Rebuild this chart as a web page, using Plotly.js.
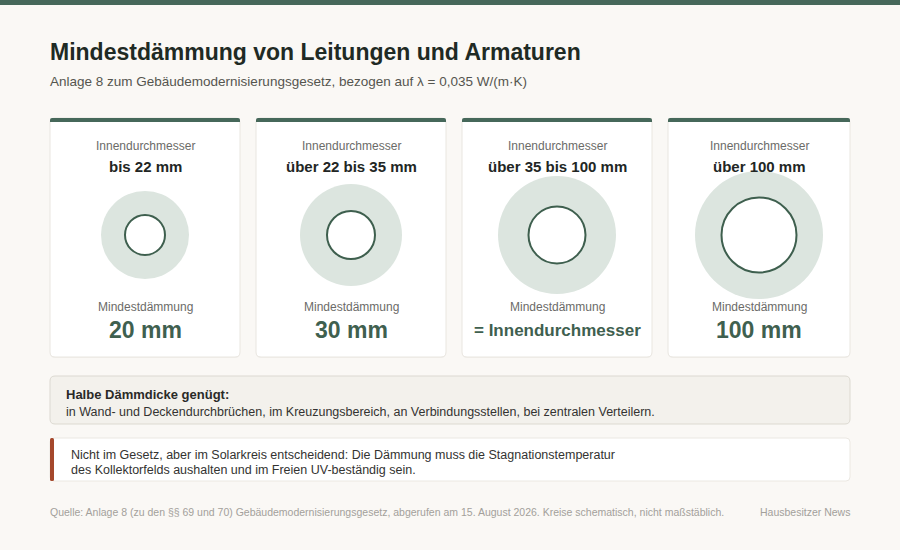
<!DOCTYPE html>
<html>
<head>
<meta charset="utf-8">
<script src="https://cdn.plot.ly/plotly-3.0.1.min.js"></script>
<style>
  html, body { margin: 0; padding: 0; background: #faf8f5; }
  #chart { width: 900px; height: 550px; }
</style>
</head>
<body>
<div id="chart"></div>
<script>
// data
var rangeLabels = ['bis 22 mm', 'über 22 bis 35 mm', 'über 35 bis 100 mm', 'über 100 mm'];
var insulationLabels = ['20 mm', '30 mm', '= Innendurchmesser', '100 mm'];
// schematic circle diameters (not to scale)
var pipeDiameter = [40, 48, 57, 75];
var insulatedDiameter = [88, 102, 118, 128];

var titleText = 'Mindestdämmung von Leitungen und Armaturen';
var subtitleText = 'Anlage 8 zum Gebäudemodernisierungsgesetz, bezogen auf λ = 0,035 W/(m·K)';
var halfHead = 'Halbe Dämmdicke genügt:';
var halfText = 'in Wand- und Deckendurchbrüchen, im Kreuzungsbereich, an Verbindungsstellen, bei zentralen Verteilern.';
var solarLines = ['Nicht im Gesetz, aber im Solarkreis entscheidend: Die Dämmung muss die Stagnationstemperatur',
                  'des Kollektorfelds aushalten und im Freien UV-beständig sein.'];
var sourceText = 'Quelle: Anlage 8 (zu den §§ 69 und 70) Gebäudemodernisierungsgesetz, abgerufen am 15. August 2026. Kreise schematisch, nicht maßstäblich.';
var brandText = 'Hausbesitzer News';

var GREEN = '#46685a';
var FONT = 'Liberation Sans, Arial, sans-serif';

// card edges (page layout)
var cardLeft = [50, 256, 462, 668];
var cardRight = [240, 446, 652, 850];
var cardTop = 118, cardBottom = 357;

function rr(x0, y0, x1, y1, r) {
    return 'M' + (x0 + r) + ',' + y0 + ' H' + (x1 - r) + ' Q' + x1 + ',' + y0 + ' ' + x1 + ',' + (y0 + r) +
        ' V' + (y1 - r) + ' Q' + x1 + ',' + y1 + ' ' + (x1 - r) + ',' + y1 +
        ' H' + (x0 + r) + ' Q' + x0 + ',' + y1 + ' ' + x0 + ',' + (y1 - r) +
        ' V' + (y0 + r) + ' Q' + x0 + ',' + y0 + ' ' + (x0 + r) + ',' + y0 + ' Z';
}
function topBar(x0, y0, x1, y1, r) {
    return 'M' + x0 + ',' + y1 + ' V' + (y0 + r) + ' Q' + x0 + ',' + y0 + ' ' + (x0 + r) + ',' + y0 +
        ' H' + (x1 - r) + ' Q' + x1 + ',' + y0 + ' ' + x1 + ',' + (y0 + r) + ' V' + y1 + ' Z';
}

var shapes = [];
var annotations = [];

// page top stripe
shapes.push({type: 'rect', x0: 0, x1: 900, y0: 0, y1: 5, fillcolor: GREEN, line: {width: 0}, layer: 'below'});

function txt(x, y, text, size, color, bold, anchor) {
    annotations.push({
        x: x, y: y, xref: 'x', yref: 'y', text: bold ? '<b>' + text + '</b>' : text,
        showarrow: false, xanchor: anchor || 'center', yanchor: 'middle',
        borderpad: 0, borderwidth: 0,
        font: {family: FONT, size: size, color: color}
    });
}

txt(50, 52, titleText, 23, '#1f2a24', true, 'left');
txt(50, 81, subtitleText, 13.5, '#55554f', false, 'left');

var centers = [];
for (var i = 0; i < rangeLabels.length; i++) {
    var cx = (cardLeft[i] + cardRight[i]) / 2;
    centers.push(cx);
    // soft shadow + card
    shapes.push({type: 'path', path: rr(cardLeft[i], cardTop + 1, cardRight[i], cardBottom + 1, 5),
        fillcolor: 'rgba(0,0,0,0.03)', line: {width: 0}, layer: 'below'});
    shapes.push({type: 'path', path: rr(cardLeft[i], cardTop, cardRight[i], cardBottom, 5),
        fillcolor: '#ffffff', line: {color: '#e9e6e0', width: 1}, layer: 'below'});
    shapes.push({type: 'path', path: topBar(cardLeft[i], cardTop, cardRight[i], cardTop + 4, 2),
        fillcolor: GREEN, line: {width: 0}, layer: 'below'});

    txt(cx, 146, 'Innendurchmesser', 12, '#6b6b68', false);
    txt(cx, 166, rangeLabels[i], 15, '#222624', true);
    txt(cx, 307, 'Mindestdämmung', 12, '#6b6b68', false);
    var vSize = insulationLabels[i].length > 8 ? 17 : 23;
    txt(cx, 330, insulationLabels[i], vSize, '#3f604f', true);
}

// hint box: half thickness
shapes.push({type: 'path', path: rr(50, 376, 850, 424, 5),
    fillcolor: '#f3f1ec', line: {color: '#dcd9d1', width: 1}, layer: 'below'});
txt(66, 394, halfHead, 13, '#2a2a28', true, 'left');
txt(66, 412, halfText, 12.5, '#333331', false, 'left');

// solar note box
shapes.push({type: 'path', path: rr(50, 438, 850, 481, 4),
    fillcolor: '#ffffff', line: {color: '#ebe8e2', width: 1}, layer: 'below'});
shapes.push({type: 'path', path: rr(50, 438, 54, 481, 1.5),
    fillcolor: '#a5482c', line: {width: 0}, layer: 'below'});
txt(71, 455, solarLines[0], 12.5, '#333331', false, 'left');
txt(71, 470, solarLines[1], 12.5, '#333331', false, 'left');

// footer
txt(50, 512, sourceText, 10.5, '#a3a09b', false, 'left');
txt(850, 512, brandText, 10.5, '#a3a09b', false, 'right');

var ringY = centers.map(function () { return 235; });

var data = [
    {
        // insulation ring
        type: 'scatter', mode: 'markers', x: centers, y: ringY,
        marker: {size: insulatedDiameter, color: '#dce5df', opacity: 1, line: {width: 0}},
        hoverinfo: 'skip', showlegend: false
    },
    {
        // pipe
        type: 'scatter', mode: 'markers', x: centers, y: ringY,
        marker: {size: pipeDiameter, color: '#ffffff', opacity: 1, line: {color: '#3e5f4e', width: 2}},
        hoverinfo: 'skip', showlegend: false
    }
];

Plotly.newPlot('chart', data, {
    width: 900,
    height: 550,
    paper_bgcolor: '#faf8f5',
    plot_bgcolor: '#faf8f5',
    margin: {l: 0, r: 0, t: 0, b: 0, pad: 0},
    xaxis: {range: [0, 900], visible: false, fixedrange: true},
    yaxis: {range: [550, 0], visible: false, fixedrange: true},
    shapes: shapes,
    annotations: annotations,
    showlegend: false
}, {
    displayModeBar: false,
    staticPlot: true
});
</script>
</body>
</html>
